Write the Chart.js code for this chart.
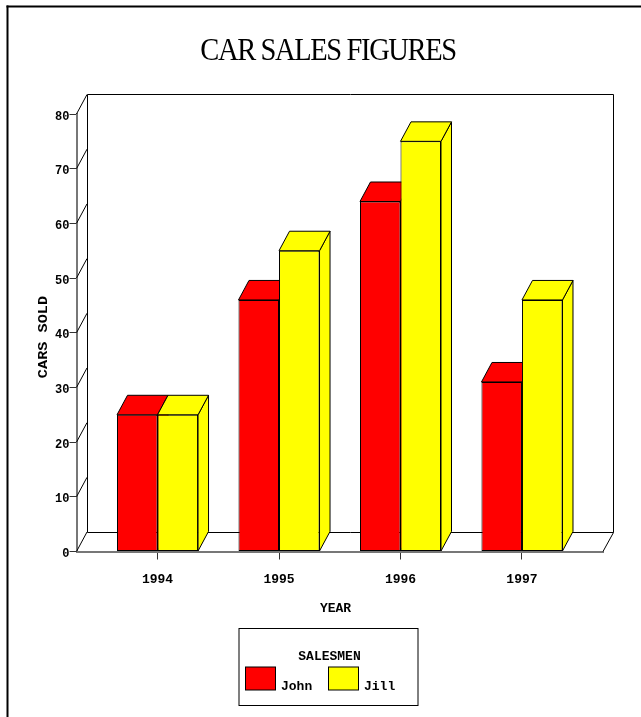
<!DOCTYPE html>
<html>
<head>
<meta charset="utf-8">
<style>html,body{margin:0;padding:0;background:#fff}#w{width:641px;height:717px}canvas{display:block}</style>
<script src="https://cdn.jsdelivr.net/npm/chart.js@4/dist/chart.umd.min.js"></script>
</head>
<body>
<div id="w"><canvas id="c" width="641" height="717"></canvas></div>
<script>
const years = [1994, 1995, 1996, 1997];
const john = [25, 46, 64, 31];
const jill = [25, 55, 75, 46];
const yTicks = [0, 10, 20, 30, 40, 50, 60, 70, 80];
const chartTitle = 'CAR SALES FIGURES';
const xTitle = 'YEAR';
const yTitle = 'CARS SOLD';
const legendTitle = 'SALESMEN';

const DX = 10.5, DY = -19.5;
const MONO = '"Liberation Mono", monospace';

function poly(ctx, pts, fill) {
  ctx.beginPath();
  pts.forEach((p, i) => i ? ctx.lineTo(p[0], p[1]) : ctx.moveTo(p[0], p[1]));
  ctx.closePath();
  if (fill) { ctx.fillStyle = fill; ctx.fill(); }
  ctx.stroke();
}

const threeD = {
  id: 'threeD',
  beforeDatasetsDraw(chart) {
    const ctx = chart.ctx, a = chart.chartArea, y = chart.scales.y;
    const L = a.left, R = a.right, B = a.bottom, T = y.getPixelForValue(80);
    const bx = Math.floor(L + DX) + 0.5, rx = Math.floor(R + DX) + 0.5;
    const ty = Math.floor(T + DY) + 0.5, by = Math.floor(B + DY) + 0.5;
    ctx.save();
    ctx.strokeStyle = '#000';
    ctx.lineWidth = 1;
    // back wall, floor, side wall
    ctx.beginPath();
    ctx.moveTo(bx, by); ctx.lineTo(bx, ty); ctx.lineTo(rx, ty);
    ctx.lineTo(rx, by); ctx.lineTo(bx, by);
    ctx.moveTo(R, B); ctx.lineTo(rx, by);
    yTicks.forEach(v => {
      const p = y.getPixelForValue(v);
      ctx.moveTo(L, p); ctx.lineTo(L + DX, p + DY);
    });
    ctx.stroke();
    // depth faces of each bar
    chart.data.datasets.forEach((ds, i) => {
      chart.getDatasetMeta(i).data.forEach(bar => {
        const l = bar.x - bar.width / 2, r = bar.x + bar.width / 2, t = bar.y, b = bar.base;
        poly(ctx, [[r, t], [r + DX, t + DY], [r + DX, b + DY], [r, b]], ds.backgroundColor);
        poly(ctx, [[l, t], [l + DX, t + DY], [r + DX, t + DY], [r, t]], ds.backgroundColor);
      });
    });
    ctx.restore();
  },
  afterDraw(chart) {
    const ctx = chart.ctx, y = chart.scales.y;
    ctx.save();
    // page frame
    ctx.fillStyle = '#000';
    ctx.fillRect(6.5, 5.5, 635, 2);
    ctx.fillRect(6.5, 5.5, 2, 712);
    // chart title
    ctx.save();
    ctx.translate(328, 60);
    ctx.scale(0.92, 1);
    ctx.font = '31px "Liberation Serif", serif';
    ctx.letterSpacing = '-1.5px';
    ctx.textAlign = 'center';
    ctx.textBaseline = 'alphabetic';
    ctx.fillText(chartTitle, 0, 0);
    ctx.restore();
    // y tick labels
    ctx.textAlign = 'right';
    ctx.textBaseline = 'alphabetic';
    ctx.font = 'bold 12px ' + MONO;
    yTicks.forEach(v => ctx.fillText(String(v), 69.5, y.getPixelForValue(v) + 5.5));
    // axis titles
    ctx.textAlign = 'center';
    ctx.font = 'bold 13px ' + MONO;
    ctx.fillText(xTitle, 335.5, 612);
    ctx.save();
    ctx.translate(47, 337);
    ctx.rotate(-Math.PI / 2);
    ctx.scale(1.27, 1);
    ctx.font = 'bold 12px ' + MONO;
    ctx.fillText(yTitle, 0, 0);
    ctx.restore();
    // legend
    ctx.strokeStyle = '#000';
    ctx.lineWidth = 1;
    ctx.strokeRect(239, 628.5, 179, 77);
    ctx.fillText(legendTitle, 329.5, 660);
    const sx = [245.5, 328.5];
    chart.data.datasets.forEach((ds, i) => {
      ctx.fillStyle = ds.backgroundColor;
      ctx.fillRect(sx[i], 667, 30, 23);
      ctx.strokeRect(sx[i], 667, 30, 23);
      ctx.fillStyle = '#000';
      ctx.textAlign = 'left';
      ctx.font = 'bold 13px ' + MONO;
      ctx.fillText(ds.label, sx[i] + 35.5, 690);
    });
    ctx.restore();
  }
};

new Chart(document.getElementById('c'), {
  type: 'bar',
  data: {
    datasets: [
      { label: 'John', data: years.map((x, i) => ({ x, y: john[i] })), backgroundColor: '#ff0000', borderColor: '#000', borderWidth: 1, borderSkipped: false },
      { label: 'Jill', data: years.map((x, i) => ({ x, y: jill[i] })), backgroundColor: '#ffff00', borderColor: '#000', borderWidth: 1, borderSkipped: false }
    ]
  },
  plugins: [threeD],
  options: {
    responsive: false,
    animation: false,
    devicePixelRatio: 1,
    layout: { padding: { left: 53, right: 38, top: 114, bottom: 0 } },
    categoryPercentage: 0.667,
    barPercentage: 1,
    plugins: {
      legend: { display: false },
      tooltip: { enabled: false },
      title: { display: false }
    },
    scales: {
      x: {
        type: 'linear',
        offset: false,
        min: 1993.333,
        max: 1997.667,
        afterBuildTicks(s) { s.ticks = years.map(value => ({ value })); },
        afterFit(s) { s.height = 165.5; },
        grid: { drawOnChartArea: false, tickLength: 8, tickColor: '#333', offset: false },
        border: { color: '#777', width: 2 },
        ticks: {
          autoSkip: false, maxRotation: 0, padding: 12, color: '#000',
          font: { family: MONO, size: 13, weight: 'bold' },
          callback: v => String(v)
        }
      },
      y: {
        min: 0,
        max: 80,
        afterBuildTicks(s) { s.ticks = yTicks.map(value => ({ value })); },
        afterFit(s) { s.width = 23.5; },
        grid: { drawOnChartArea: false, tickLength: 7, tickColor: '#333' },
        border: { color: '#777', width: 2 },
        ticks: { display: false }
      }
    }
  }
});
</script>
</body>
</html>
